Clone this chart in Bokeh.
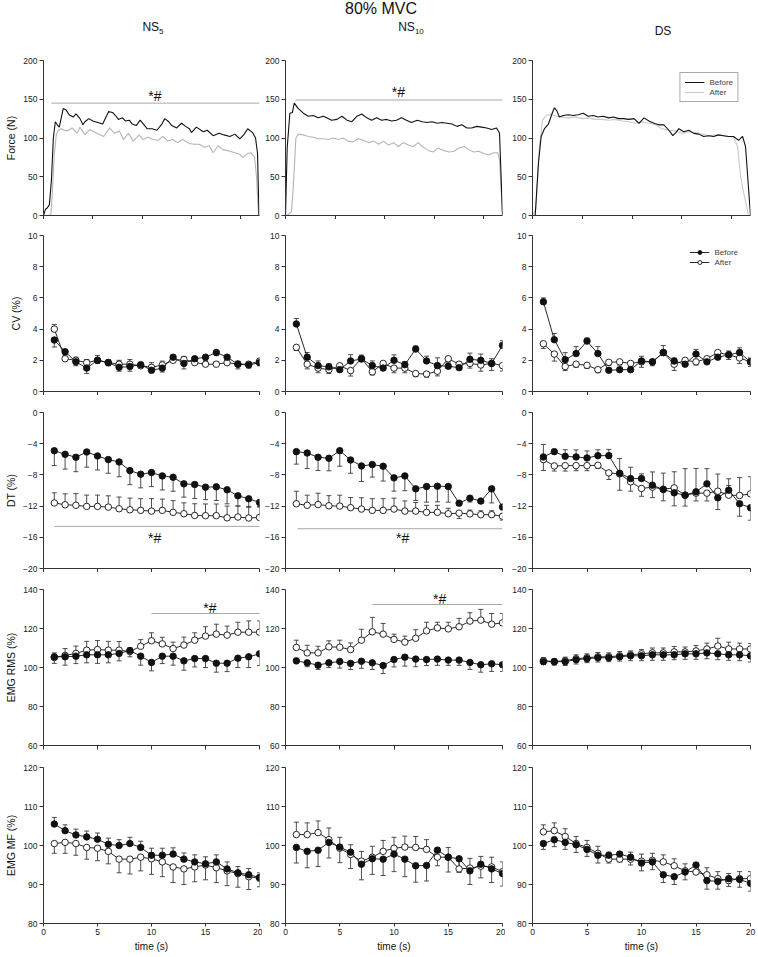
from bokeh.plotting import figure
from bokeh.layouts import gridplot, column
from bokeh.models import Div, FixedTicker, Range1d, Legend, LegendItem
from bokeh.embed import file_html
from bokeh.resources import INLINE
from bokeh.core.properties import value

FONT = "Liberation Sans"

# ---------------- data ----------------
TIME = list(range(1, 21))
X_TICKS = [0, 5, 10, 15, 20]
COLUMN_TITLES = ["NS5", "NS10", "DS"]
ROW_LABELS = ["Force (N)", "CV (%)", "DT (%)", "EMG RMS (%)", "EMG MF (%)"]
Y_TICKS_FORCE = [0, 50, 100, 150, 200]
Y_TICKS_CV = [0, 2, 4, 6, 8, 10]
Y_TICKS_DT = [-20, -16, -12, -8, -4, 0]
Y_TICKS_RMS = [60, 80, 100, 120, 140]
Y_TICKS_MF = [80, 90, 100, 110, 120]

# force traces: (time, force)
force_ns5_before = [(0,0),(0.2,8),(0.4,10),(0.6,14),(0.8,45),(1.0,100),(1.2,121),(1.4,117),(1.6,114),(1.8,126),(2.0,138),(2.3,136),(2.6,130),(3.0,127),(3.3,131),(3.7,125),(4.0,117),(4.2,121),(4.6,125),(5.0,122),(5.5,120),(6.0,118),(6.3,126),(6.6,134),(7.0,133),(7.3,129),(7.6,124),(8.0,126),(8.3,122),(8.7,123),(9.0,118),(9.4,116),(9.8,123),(10.2,117),(10.5,112),(11.0,112),(11.5,110),(12.0,118),(12.3,125),(12.7,121),(13.0,116),(13.5,113),(14.0,119),(14.4,115),(14.8,112),(15.0,107),(15.5,114),(16.2,108),(16.6,110),(17.2,103),(17.8,106),(18.3,104),(18.9,102),(19.4,105),(19.9,99),(20.3,104),(20.7,112),(21.2,107),(21.5,100),(21.7,80),(21.85,0)]
force_ns5_after = [(0,0),(0.6,0),(0.75,2),(0.9,30),(1.1,80),(1.3,104),(1.5,110),(1.8,112),(2.1,110),(2.4,109),(2.9,113),(3.4,106),(3.7,114),(4.2,104),(4.7,111),(5.4,106),(6.1,102),(6.7,113),(7.2,106),(7.7,109),(8.1,98),(8.6,106),(9.1,96),(9.7,104),(10.1,98),(10.6,101),(11.1,98),(11.6,97),(12.1,102),(12.6,96),(13.1,98),(13.6,94),(14.1,98),(14.8,93),(15.3,92),(15.8,92),(16.3,88),(16.8,90),(17.2,81),(17.7,90),(18.2,85),(18.9,83),(19.4,81),(19.9,79),(20.2,75),(20.7,80),(21.0,81),(21.4,75),(21.6,50),(21.8,0)]
force_ns10_before = [(0,0),(0.17,87),(0.44,132),(0.7,133),(0.88,145),(1.3,138),(1.8,132),(2.3,128),(2.8,129),(3.3,126),(3.8,128),(4.15,126),(4.65,123),(5.2,124),(5.7,128),(6.2,123),(6.7,121),(7.2,128),(7.7,131),(8.2,126),(8.7,123),(9.2,126),(9.7,123),(10.2,124),(10.7,122),(11.2,123),(11.7,126),(12.2,123),(12.7,120),(13.3,123),(13.8,121),(14.3,120),(14.8,121),(15.3,119),(15.8,120),(16.3,119),(16.8,118),(17.3,115),(17.8,117),(18.3,113),(18.8,113),(19.3,115),(19.8,114),(20.3,113),(20.8,111),(21.3,113),(21.6,106),(21.9,0)]
force_ns10_after = [(0,0),(0.37,2),(0.6,5),(0.78,36),(1.05,100),(1.3,105),(1.8,104),(2.3,102),(2.8,101),(3.3,99),(3.8,99),(4.3,98),(4.8,100),(5.3,98),(5.8,100),(6.3,96),(6.8,95),(7.35,99),(7.85,97),(8.4,94),(8.9,96),(9.4,92),(9.9,96),(10.4,91),(10.9,94),(11.4,89),(11.9,94),(12.4,91),(12.9,89),(13.4,94),(13.9,88),(14.4,84),(14.9,82),(15.4,87),(15.95,84),(16.5,82),(17.0,83),(17.5,87),(18.0,89),(18.5,85),(19.0,82),(19.5,83),(20.0,80),(20.5,78),(21.0,81),(21.4,81),(21.6,72),(21.9,0)]
force_ds_before = [(0,0),(0.27,0),(0.6,68),(0.87,102),(1.2,112),(1.6,118),(1.95,131),(2.2,139),(2.45,135),(2.7,127),(3.1,129),(3.6,130),(4.1,129),(4.6,130),(5.1,132),(5.6,128),(6.1,129),(6.6,127),(7.1,128),(7.65,126),(8.15,127),(8.65,125),(9.15,125),(9.65,124),(10.2,125),(10.7,119),(11.2,126),(11.7,122),(12.2,119),(12.7,117),(13.2,117),(13.7,110),(14.1,103),(14.4,107),(14.7,112),(15.2,108),(15.7,110),(16.2,106),(16.7,105),(17.2,102),(17.7,103),(18.2,102),(18.7,104),(19.2,103),(19.7,102),(20.2,102),(20.7,97),(21.1,102),(21.4,89),(21.9,0)]
force_ds_after = [(0,0),(0.34,8),(0.67,85),(1.0,123),(1.45,130),(1.95,130),(2.45,128),(2.95,127),(3.6,126),(4.3,127),(5.0,125),(5.6,126),(6.3,124),(7.0,124),(7.65,123),(8.3,124),(9.0,122),(9.7,121),(10.3,119),(11.0,121),(11.7,119),(12.4,117),(13.0,112),(13.7,110),(14.4,109),(15.0,106),(15.7,108),(16.4,107),(17.0,105),(17.7,103),(18.4,104),(19.1,103),(19.7,102),(20.2,101),(20.6,89),(20.9,51),(21.2,30),(21.7,0)]

# CV (%) means and signed error bars (+ up, - down)
cv_ns5_before = [3.3,2.55,1.9,1.5,2.0,1.85,1.55,1.6,1.72,1.36,1.5,2.2,1.8,2.1,2.2,2.5,2.2,1.75,1.7,1.85]
cv_ns5_before_err = [-0.45,-0.2,-0.25,-0.35,-0.2,-0.2,-0.25,-0.3,-0.2,-0.15,-0.25,-0.2,-0.35,-0.2,-0.2,-0.2,-0.2,-0.3,-0.2,-0.2]
cv_ns5_after = [4.0,2.1,2.0,1.85,2.0,1.85,1.75,1.75,1.65,1.55,1.7,2.0,2.05,1.85,1.75,1.75,1.85,1.75,1.75,1.95]
cv_ns5_after_err = [0.3,0.15,0.2,0.2,0.3,0.2,0.25,0.3,0.2,0.3,0.25,0.25,0.2,0.15,0.15,0.15,0.15,0.2,0.15,0.15]
cv_ns10_before = [4.33,2.2,1.66,1.58,1.4,1.96,2.08,1.66,1.5,2.0,1.72,2.72,1.96,1.66,1.62,1.53,2.06,2.0,1.8,2.96]
cv_ns10_before_err = [0.35,0.3,0.3,0.2,0.2,0.4,0.25,0.3,0.2,0.35,0.2,0.2,0.3,0.5,0.2,0.2,0.4,0.4,0.3,0.3]
cv_ns10_after = [2.83,1.75,1.5,1.4,1.65,1.34,2.12,1.26,1.8,1.5,1.5,1.15,1.12,1.3,2.1,1.75,1.8,1.7,1.8,1.66]
cv_ns10_after_err = [-0.2,-0.3,-0.3,-0.25,-0.2,-0.35,-0.2,-0.2,-0.25,-0.3,-0.3,-0.2,-0.2,-0.3,-0.2,-0.2,-0.3,-0.4,-0.45,-0.35]
cv_ds_before = [5.75,3.32,2.04,2.43,3.23,2.43,1.36,1.4,1.4,1.96,1.9,2.5,1.95,1.75,2.4,1.9,2.2,2.35,2.5,1.9]
cv_ds_before_err = [0.25,0.4,0.45,0.45,0.2,0.45,0.15,0.15,0.15,0.3,0.15,0.45,0.2,0.1,0.3,0.2,0.15,0.25,0.3,0.25]
cv_ds_after = [3.06,2.4,1.6,1.75,1.68,1.4,1.87,1.9,1.8,1.9,1.9,2.5,1.75,2.0,1.9,2.1,2.5,2.35,2.15,1.9]
cv_ds_after_err = [-0.3,-0.45,-0.25,-0.2,-0.2,-0.2,-0.2,-0.2,-0.2,-0.35,-0.25,-0.2,-0.4,-0.15,-0.2,-0.2,-0.15,-0.3,-0.35,-0.3]

# DT (%)
dt_ns5_before = [-4.9,-5.36,-5.74,-5.06,-5.57,-6.04,-6.34,-7.45,-7.91,-7.7,-8.13,-8.3,-9.15,-9.23,-9.57,-9.53,-9.91,-10.68,-11.06,-11.53]
dt_ns5_before_err = [-1.9,-1.9,-1.85,-1.95,-1.8,-1.75,-1.9,-1.8,-1.75,-1.8,-1.8,-1.8,-1.7,-1.8,-1.6,-1.75,-1.8,-1.3,-1.1,-0.6]
dt_ns5_after = [-11.6,-11.83,-11.9,-12.04,-12.04,-12.13,-12.34,-12.47,-12.55,-12.64,-12.55,-12.8,-12.98,-13.2,-13.23,-13.23,-13.5,-13.4,-13.53,-13.45]
dt_ns5_after_err = [1.3,1.4,1.5,1.45,1.45,1.45,1.5,1.5,1.5,1.6,1.45,1.5,1.4,1.5,1.5,1.5,1.5,1.4,1.5,1.4]
dt_ns10_before = [-5.02,-5.19,-5.74,-5.87,-4.89,-6.09,-6.85,-6.68,-6.89,-8.38,-8.13,-9.79,-9.49,-9.45,-9.49,-11.62,-10.98,-11.36,-9.79,-12.13]
dt_ns10_before_err = [-1.6,-2.0,-1.7,-1.6,-2.0,-1.7,-2.0,-1.6,-1.9,-1.7,-1.9,-1.5,-2.0,-2.0,-2.0,-0.3,-0.5,-0.3,-1.8,-0.3]
dt_ns10_after = [-11.7,-11.9,-11.8,-11.96,-12.0,-12.2,-12.38,-12.55,-12.55,-12.38,-12.64,-12.64,-12.8,-12.8,-12.98,-12.9,-13.0,-13.1,-13.1,-13.3]
dt_ns10_after_err = [1.6,1.3,1.45,1.3,1.4,1.3,1.45,1.5,1.5,1.4,1.3,1.1,0.9,0.9,0.7,-0.7,0.5,0.5,0.5,-0.5]
dt_ds_before = [-5.7,-5.02,-5.62,-5.7,-5.83,-5.53,-5.53,-7.79,-8.47,-8.47,-9.32,-9.87,-10.3,-10.6,-10.17,-9.15,-10.94,-9.96,-11.7,-12.21]
dt_ds_before_err = [1.6,0.3,0.85,0.9,0.9,0.75,0.8,1.9,1.45,0.6,1.7,2.1,2.7,3.4,3.0,1.95,-1.5,0.6,-1.6,-1.6]
dt_ds_after = [-6.04,-6.85,-6.81,-6.81,-6.81,-6.77,-7.74,-7.87,-8.89,-9.74,-9.57,-9.83,-9.66,-10.6,-10.34,-10.34,-10.09,-10.6,-10.64,-10.43]
dt_ds_after_err = [-1.4,-0.65,-0.7,-0.65,-0.65,-0.4,-0.85,-2.1,-1.2,-1.0,-1.35,-1.5,-2.3,-1.4,-1.0,-1.0,2.2,2.1,2.3,2.2]

# EMG RMS (%)
rms_ns5_before = [105.5,105.5,105.8,106.5,106.5,106.5,107.2,108.7,105.8,102.6,105.8,105.8,103.4,104.6,104.6,102.2,102.2,104.8,105.5,107.0]
rms_ns5_before_err = [-3.4,-4.3,-3.8,-4.1,-4.4,-4.1,-3.8,-3.2,-4.6,-4.3,-3.8,-4.6,-4.8,-4.3,-4.6,-4.6,-4.3,-4.8,-5.5,-6.0]
rms_ns5_after = [105.1,106.2,107.2,108.9,109.2,108.9,108.9,108.2,110.9,113.7,112.1,109.7,111.5,114.0,116.1,117.1,116.6,118.1,118.1,118.1]
rms_ns5_after_err = [2.4,3.5,3.8,4.5,4.6,4.5,4.4,2.0,3.4,4.1,3.4,3.3,4.1,3.8,4.8,5.1,4.6,5.1,5.8,5.8]
rms_ns10_before = [103.4,102.4,101.2,102.4,103.1,102.1,103.2,102.4,101.0,104.1,105.3,104.3,104.1,104.3,103.8,103.8,102.6,101.4,101.9,101.4]
rms_ns10_before_err = [-1.4,-2.0,-2.2,-2.4,-3.4,-3.1,-3.6,-3.4,-4.1,-3.8,-4.6,-3.9,-3.1,-3.2,-2.7,-2.7,-3.6,-3.8,-3.9,-3.4]
rms_ns10_after = [110.3,107.5,107.5,110.6,110.4,109.2,114.0,118.3,117.1,114.4,113.0,115.0,118.8,120.3,119.8,120.9,123.8,124.3,122.2,122.9]
rms_ns10_after_err = [3.7,3.9,3.4,3.1,3.6,3.4,5.6,7.4,5.5,2.7,3.1,4.4,4.4,2.9,3.4,4.3,4.3,5.5,5.5,4.8]
rms_ds_before = [103.0,103.0,103.0,104.0,104.5,105.0,105.0,105.5,106.0,106.0,106.5,106.5,106.5,107.0,107.0,107.5,107.0,106.5,106.5,106.0]
rms_ds_before_err = [-1.5,-1.8,-2.0,-2.2,-2.0,-2.2,-2.0,-2.2,-2.5,-2.5,-2.8,-2.8,-2.5,-2.8,-2.8,-3.0,-3.0,-2.8,-3.0,-3.2]
rms_ds_after = [103.5,103.0,103.5,104.5,105.0,105.5,105.5,106.0,106.5,107.0,107.5,107.5,108.0,108.0,108.5,109.5,111.0,109.5,109.5,109.5]
rms_ds_after_err = [1.5,1.5,1.8,2.0,2.0,2.2,2.0,2.2,2.0,2.2,2.5,2.5,2.8,2.5,2.8,3.0,4.0,3.5,3.0,2.8]

# EMG MF (%)
mf_ns5_before = [105.5,103.8,102.7,102.2,101.6,100.3,100.0,100.5,99.5,97.5,97.5,97.8,96.5,95.8,95.3,95.8,94.0,93.0,92.5,91.8]
mf_ns5_before_err = [1.7,1.5,1.5,1.5,1.6,1.6,1.5,1.6,1.6,1.8,1.8,1.6,1.6,1.8,1.8,1.8,1.8,1.6,1.6,1.2]
mf_ns5_after = [100.5,100.8,100.5,99.5,99.3,98.5,96.5,96.5,97.0,96.6,95.8,94.5,94.0,94.5,95.0,94.3,93.5,92.8,92.0,91.6]
mf_ns5_after_err = [-2.5,-2.8,-3.0,-3.0,-3.2,-3.2,-3.5,-3.8,-3.5,-4.0,-3.8,-4.0,-4.0,-3.8,-3.8,-3.8,-3.8,-3.5,-3.3,-2.2]
mf_ns10_before = [99.5,98.5,98.8,100.8,99.6,98.3,95.2,96.6,96.5,97.8,96.5,94.8,94.9,98.8,97.0,96.6,93.5,95.2,94.0,92.8]
mf_ns10_before_err = [-4.0,-4.2,-4.2,-4.0,-4.0,-4.2,-4.0,-4.0,-4.2,-4.5,-4.5,-4.2,-4.0,-4.0,-3.8,-3.5,-3.5,-3.5,-3.5,-3.2]
mf_ns10_after = [102.8,102.8,103.3,101.5,99.3,97.7,96.0,97.0,98.5,99.3,99.6,99.5,99.0,97.0,97.0,94.0,94.2,94.7,94.5,93.3]
mf_ns10_after_err = [3.2,3.0,3.0,3.0,2.8,2.5,2.5,2.8,2.8,2.8,2.8,2.8,2.5,2.5,2.5,2.5,2.5,2.5,2.5,2.5]
mf_ds_before = [100.5,101.5,100.8,100.2,99.0,97.5,97.5,97.8,97.0,95.5,95.8,92.5,92.0,93.2,95.0,91.0,90.8,91.5,91.3,90.3]
mf_ds_before_err = [-1.5,-1.8,-1.8,-2.0,-1.8,-2.0,-2.0,-2.0,-2.0,-2.0,-2.0,-2.0,-2.0,-2.0,-2.2,-2.2,-2.0,-2.0,-2.0,-2.0]
mf_ds_after = [103.5,103.8,102.3,100.5,99.5,98.0,96.5,96.5,96.5,96.0,96.2,95.8,94.8,93.5,93.2,92.5,91.5,91.0,91.5,91.5]
mf_ds_after_err = [1.8,2.0,2.0,1.8,1.8,1.8,1.8,1.8,1.8,1.8,1.8,1.8,1.8,1.8,1.8,1.8,1.8,1.8,1.8,1.8]

# significance bars: (x_start, x_end, y) and label position (x, y)
sig_force_ns5 = [0.8, 21.9, 145]
sig_force_ns5_label = [11.3, 154]
sig_force_ns10 = [1.0, 21.9, 149]
sig_force_ns10_label = [11.4, 160]
sig_dt_ns5 = [1.0, 20.0, -14.6]
sig_dt_ns5_label = [10.3, -16.1]
sig_dt_ns10 = [1.1, 20.0, -14.9]
sig_dt_ns10_label = [10.8, -16.1]
sig_rms_ns5 = [10.0, 20.3, 127.7]
sig_rms_ns5_label = [15.4, 130.4]
sig_rms_ns10 = [8.0, 20.0, 132.3]
sig_rms_ns10_label = [14.2, 135.0]
SIG_TEXT = "*#"

# ---------------- layout ----------------
WIDTHS = [262, 243, 251]
LEFT = [43, 23, 27]
RIGHT = [3, 3, 6]
TOP_B = [16, 16, 17, 17, 17]
FRAME_H = 156
BOTTOM_B = [3, 4, 4, 5, 32]
AX = "#333333"
ERR = "#3a3a3a"


def base_fig(ci, ri, xr, yr, yticks, ylabel):
    h = TOP_B[ri] + FRAME_H + BOTTOM_B[ri]
    p = figure(width=WIDTHS[ci], height=h, x_range=Range1d(*xr), y_range=Range1d(*yr),
               output_backend="svg", toolbar_location=None, tools="",
               min_border_left=LEFT[ci], min_border_right=RIGHT[ci],
               min_border_top=TOP_B[ri], min_border_bottom=BOTTOM_B[ri])
    p.outline_line_color = None
    p.xgrid.visible = False
    p.ygrid.visible = False
    for ax in (p.xaxis[0], p.yaxis[0]):
        ax.axis_line_color = AX
        ax.axis_line_width = 1
        ax.major_tick_line_color = AX
        ax.major_tick_in = 0
        ax.major_tick_out = 4
        ax.minor_tick_in = 0
        ax.minor_tick_out = 4
        ax.minor_tick_line_color = AX
        ax.major_label_text_font = FONT
        ax.major_label_text_font_size = "8.5px"
        ax.major_label_text_color = "#222222"
        ax.axis_label_text_font = FONT
        ax.axis_label_text_font_style = "normal"
        ax.axis_label_text_color = "#111111"
    p.yaxis.ticker = FixedTicker(ticks=yticks)
    p.yaxis.major_label_standoff = 2
    if ci == 0:
        p.yaxis.axis_label = ylabel
        p.yaxis.axis_label_text_font_size = "10.5px"
        p.yaxis.axis_label_standoff = 3
    if ri == 4:
        p.xaxis.ticker = FixedTicker(ticks=X_TICKS)
        p.xaxis.major_tick_out = 3
        p.xaxis.major_label_standoff = 2
        p.xaxis.axis_label = "time (s)"
        p.xaxis.axis_label_text_font_size = "10px"
        p.xaxis.axis_label_standoff = 3
    else:
        p.xaxis.ticker = FixedTicker(ticks=[], minor_ticks=X_TICKS)
    return p


def add_sig(p, sig, lab):
    p.line(x=[sig[0], sig[1]], y=[sig[2], sig[2]], line_color="#a8a8a8", line_width=1)
    p.text(x=[lab[0]], y=[lab[1]], text=[SIG_TEXT], text_font=value(FONT),
           text_font_size="14px", text_align="center", text_baseline="middle",
           text_color="#111111")


def draw_points(p, yb, eb, ya, ea):
    for y, e in ((yb, eb), (ya, ea)):
        ends = [v + d for v, d in zip(y, e)]
        p.segment(x0=TIME, y0=y, x1=TIME, y1=ends, line_color=ERR, line_width=0.9)
        p.scatter(x=TIME, y=ends, marker="dash", size=5, line_color=ERR, line_width=0.9)
    lb = p.line(TIME, yb, line_color="#111111", line_width=0.9)
    la = p.line(TIME, ya, line_color="#111111", line_width=0.9)
    sa = p.scatter(TIME, ya, size=6.5, fill_color="white", line_color="#111111", line_width=0.9)
    sb = p.scatter(TIME, yb, size=6.5, fill_color="#111111", line_color="#111111", line_width=0.9)
    return [lb, sb], [la, sa]


def style_legend(leg, border):
    leg.location = "top_right"
    leg.margin = 12
    leg.label_text_font = FONT
    leg.label_text_font_size = "8px"
    leg.label_height = 10
    leg.glyph_height = 10
    leg.glyph_width = 20
    leg.spacing = 0
    leg.padding = 4
    leg.label_standoff = 5
    leg.background_fill_alpha = 1
    if border:
        leg.border_line_color = "#555555"
        leg.border_line_width = 1
    else:
        leg.border_line_color = None


force_data = [(force_ns5_before, force_ns5_after, "#b5b5b5"),
              (force_ns10_before, force_ns10_after, "#b5b5b5"),
              (force_ds_before, force_ds_after, "#c8c8c8")]
cv_data = [(cv_ns5_before, cv_ns5_before_err, cv_ns5_after, cv_ns5_after_err),
           (cv_ns10_before, cv_ns10_before_err, cv_ns10_after, cv_ns10_after_err),
           (cv_ds_before, cv_ds_before_err, cv_ds_after, cv_ds_after_err)]
dt_data = [(dt_ns5_before, dt_ns5_before_err, dt_ns5_after, dt_ns5_after_err),
           (dt_ns10_before, dt_ns10_before_err, dt_ns10_after, dt_ns10_after_err),
           (dt_ds_before, dt_ds_before_err, dt_ds_after, dt_ds_after_err)]
rms_data = [(rms_ns5_before, rms_ns5_before_err, rms_ns5_after, rms_ns5_after_err),
            (rms_ns10_before, rms_ns10_before_err, rms_ns10_after, rms_ns10_after_err),
            (rms_ds_before, rms_ds_before_err, rms_ds_after, rms_ds_after_err)]
mf_data = [(mf_ns5_before, mf_ns5_before_err, mf_ns5_after, mf_ns5_after_err),
           (mf_ns10_before, mf_ns10_before_err, mf_ns10_after, mf_ns10_after_err),
           (mf_ds_before, mf_ds_before_err, mf_ds_after, mf_ds_after_err)]

rows = [[], [], [], [], []]
for ci in range(3):
    # force
    p = base_fig(ci, 0, (0, 21.9), (0, 200), Y_TICKS_FORCE, ROW_LABELS[0])
    fb, fa, gcol = force_data[ci]
    if ci == 0:
        add_sig(p, sig_force_ns5, sig_force_ns5_label)
    if ci == 1:
        add_sig(p, sig_force_ns10, sig_force_ns10_label)
    ra = p.line([a for a, b in fa], [b for a, b in fa], line_color=gcol, line_width=1.1)
    rb = p.line([a for a, b in fb], [b for a, b in fb], line_color="#111111", line_width=1.1)
    if ci == 2:
        leg = Legend(items=[LegendItem(label="Before", renderers=[rb]),
                            LegendItem(label="After", renderers=[ra])])
        style_legend(leg, True)
        p.add_layout(leg)
    rows[0].append(p)

    # CV
    p = base_fig(ci, 1, (0, 20), (0, 10), Y_TICKS_CV, ROW_LABELS[1])
    b, be, a, ae = cv_data[ci]
    rb, ra = draw_points(p, b, be, a, ae)
    if ci == 2:
        leg = Legend(items=[LegendItem(label="Before", renderers=rb),
                            LegendItem(label="After", renderers=ra)])
        style_legend(leg, False)
        p.add_layout(leg)
    rows[1].append(p)

    # DT
    p = base_fig(ci, 2, (0, 20), (-20, 0), Y_TICKS_DT, ROW_LABELS[2])
    b, be, a, ae = dt_data[ci]
    draw_points(p, b, be, a, ae)
    if ci == 0:
        add_sig(p, sig_dt_ns5, sig_dt_ns5_label)
    if ci == 1:
        add_sig(p, sig_dt_ns10, sig_dt_ns10_label)
    rows[2].append(p)

    # EMG RMS
    p = base_fig(ci, 3, (0, 20), (60, 140), Y_TICKS_RMS, ROW_LABELS[3])
    b, be, a, ae = rms_data[ci]
    draw_points(p, b, be, a, ae)
    if ci == 0:
        add_sig(p, sig_rms_ns5, sig_rms_ns5_label)
    if ci == 1:
        add_sig(p, sig_rms_ns10, sig_rms_ns10_label)
    rows[3].append(p)

    # EMG MF
    p = base_fig(ci, 4, (0, 20), (80, 120), Y_TICKS_MF, ROW_LABELS[4])
    b, be, a, ae = mf_data[ci]
    draw_points(p, b, be, a, ae)
    rows[4].append(p)

grid = gridplot(rows, toolbar_location=None)


def head_span(center, top, size, inner):
    return ("<div style=\"position:absolute;left:%dpx;width:120px;top:%dpx;"
            "text-align:center;white-space:nowrap;font-size:%dpx;\">%s</div>"
            % (center - 60, top, size, inner))


head_html = (
    "<div style=\"position:relative;width:756px;height:44px;"
    "font-family:'Liberation Sans',Arial,sans-serif;color:#111;line-height:1;\">"
    + head_span(381, 1, 16, "80% MVC")
    + head_span(153, 21, 12, "NS<sub style=\"font-size:8px;\">5</sub>")
    + head_span(411, 21, 12, "NS<sub style=\"font-size:8px;\">10</sub>")
    + head_span(663, 25, 12, "DS")
    + "</div>"
)
head = Div(text=head_html, width=756, height=44, margin=0)

layout = column(head, grid, spacing=0)

open("out.html", "w").write(file_html(layout, INLINE))
